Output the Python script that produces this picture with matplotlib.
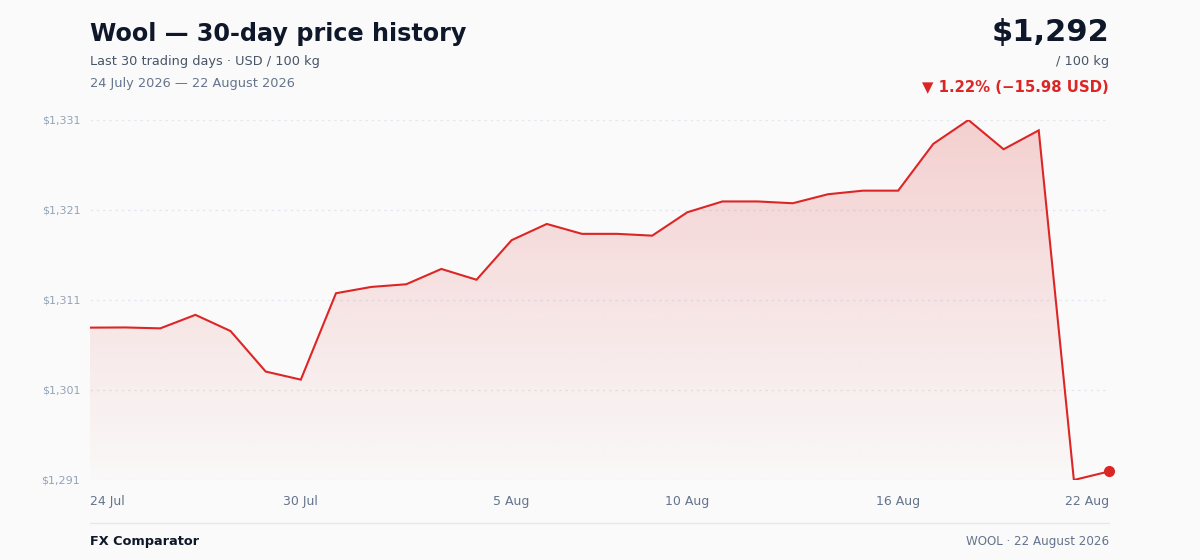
import numpy as np
import pandas as pd
import matplotlib
matplotlib.use("Agg")
import matplotlib.pyplot as plt
import matplotlib.dates as mdates
from matplotlib.patches import Polygon

# data
dates = pd.date_range("2026-07-24", "2026-08-22", freq="D")
prices = [1307.88, 1307.90, 1307.80, 1309.30, 1307.50, 1303.00, 1302.10,
          1311.70, 1312.40, 1312.70, 1314.40, 1313.20, 1317.60, 1319.40,
          1318.30, 1318.30, 1318.10, 1320.70, 1321.90, 1321.90, 1321.70,
          1322.70, 1323.10, 1323.10, 1328.30, 1330.95, 1327.70, 1329.80,
          1290.95, 1291.90]
tick_dates = ["2026-07-24", "2026-07-30", "2026-08-05", "2026-08-10",
              "2026-08-16", "2026-08-22"]
tick_labels = ["24 Jul", "30 Jul", "5 Aug", "10 Aug", "16 Aug", "22 Aug"]

title = "Wool — 30-day price history"
subtitle = "Last 30 trading days · USD / 100 kg"
range_txt = "24 July 2026 — 22 August 2026"
unit = "/ 100 kg"
source = "FX Comparator"
stamp = "WOOL · 22 August 2026"

RED = "#dc2626"
BG = "#fafafa"

prices = np.array(prices)
last = prices[-1]
chg = last - prices[0]
pct = chg / prices[0] * 100

fig = plt.figure(figsize=(12, 5.6), dpi=100, facecolor=BG)
ax = fig.add_axes([90 / 1200, 80 / 560, 1019 / 1200, 360 / 560])
ax.set_facecolor(BG)

x = mdates.date2num(dates)
lo, hi = prices.min(), prices.max()
ax.set_xlim(x[0], x[-1])
ax.set_ylim(lo, hi)

# gradient fill under the line
grad = np.zeros((256, 1, 4))
grad[:, 0, :3] = matplotlib.colors.to_rgb(RED)
grad[:, 0, 3] = np.linspace(0.2, 0.01, 256)
img = ax.imshow(grad, extent=[x[0], x[-1], lo, hi], origin="upper",
                aspect="auto", zorder=1, interpolation="bilinear")
verts = np.vstack([[x[0], lo], np.column_stack([x, prices]), [x[-1], lo]])
poly = Polygon(verts, closed=True, facecolor="none", edgecolor="none")
ax.add_patch(poly)
img.set_clip_path(poly)

ax.plot(x, prices, color=RED, lw=1.5, zorder=3, solid_joinstyle="miter")
ax.plot(x[-1], last, "o", color=RED, ms=7, zorder=4, clip_on=False)

yt = np.linspace(lo, hi, 5)
ax.set_yticks(yt)
ax.set_yticklabels(["${:,.0f}".format(v) for v in yt])
for v in yt:
    ax.axhline(v, color="#e2e8f0", lw=0.9, ls=(0, (2, 3)), zorder=0)

ax.set_xticks(mdates.date2num(pd.to_datetime(tick_dates)))
ax.set_xticklabels(tick_labels)
ax.tick_params(axis="y", length=0, pad=7, labelsize=8, labelcolor="#94a3b8")
ax.tick_params(axis="x", length=0, pad=11, labelsize=9, labelcolor="#64748b")
xl = ax.get_xticklabels()
xl[0].set_ha("left")
xl[-1].set_ha("right")
for s in ax.spines.values():
    s.set_visible(False)

# header
fig.text(90 / 1200, 1 - 34 / 560, title, fontsize=17.2, fontweight="bold",
         color="#0f172a", va="center", ha="left")
fig.text(90 / 1200, 1 - 61 / 560, subtitle, fontsize=9.3, color="#475569",
         va="center", ha="left")
fig.text(90 / 1200, 1 - 83 / 560, range_txt, fontsize=9.3, color="#64748b",
         va="center", ha="left")
fig.text(1109 / 1200, 1 - 32 / 560, "${:,.0f}".format(last), fontsize=22,
         fontweight="bold", color="#0f172a", va="center", ha="right")
fig.text(1109 / 1200, 1 - 61 / 560, unit, fontsize=9.3, color="#475569",
         va="center", ha="right")
arrow = "▼" if chg < 0 else "▲"
fig.text(1109 / 1200, 1 - 87 / 560,
         "{} {:.2f}% (\u2212{:.2f} USD)".format(arrow, abs(pct), abs(chg)),
         fontsize=10.7, fontweight="bold", color=RED, va="center", ha="right")

# footer
fig.add_artist(plt.Line2D([90 / 1200, 1109 / 1200], [1 - 523 / 560] * 2,
                          color="#e5e7eb", lw=1))
fig.text(90 / 1200, 1 - 541 / 560, source, fontsize=9.3, fontweight="bold",
         color="#0f172a", va="center", ha="left")
fig.text(1109 / 1200, 1 - 541 / 560, stamp, fontsize=8.6, color="#64748b",
         va="center", ha="right")

fig.savefig("out.png", dpi=100, facecolor=BG)
